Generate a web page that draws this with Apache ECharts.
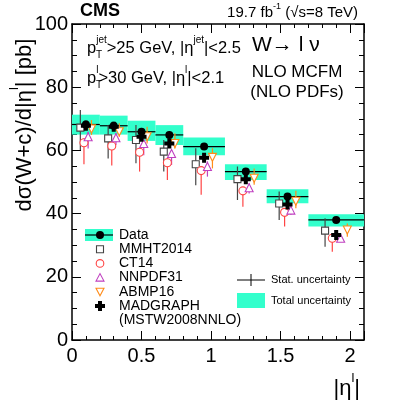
<!DOCTYPE html>
<html>
<head>
<meta charset="utf-8">
<script src="https://cdn.jsdelivr.net/npm/echarts@6/dist/echarts.min.js"></script>
<style>
  html, body { margin: 0; padding: 0; background: #fff; }
  #chart { width: 399px; height: 404px; }
</style>
</head>
<body>
<div id="chart"></div>
<script>
// bins in |eta^l|
const binLo = [0, 0.2, 0.4, 0.6, 0.8, 1.1, 1.4, 1.7];
const binHi = [0.2, 0.4, 0.6, 0.8, 1.1, 1.4, 1.7, 2.1];

// measured cross section [pb]
const dataVal = [68.2, 67.8, 65.9, 64.9, 61.2, 53.3, 45.4, 38.0];
const dataStat = [1.2, 1.2, 1.2, 1.2, 1.1, 1.0, 0.9, 0.8];
const dataTotLo = [65.0, 65.0, 63.0, 61.7, 58.5, 50.6, 43.3, 35.9];
const dataTotHi = [71.3, 71.0, 69.4, 68.0, 64.1, 55.6, 47.7, 39.8];

// predictions: value, upper and lower edge of uncertainty
const mmhtVal = [67.2, 63.8, 63.3, 59.6, 55.6, 50.9, 43.2, 34.6];
const mmhtHi = [72.8, 68.0, 68.0, 63.3, 60.7, 54.9, 47.0, 38.5];
const mmhtLo = [60.1, 57.4, 55.9, 53.3, 49.0, 44.3, 38.0, 29.5];

const ct14Val = [62.4, 61.4, 59.4, 56.1, 53.6, 47.2, 40.4, 32.2];
const ct14Hi = [63.8, 62.8, 60.7, 57.5, 54.3, 48.5, 41.1, 33.2];
const ct14Lo = [55.6, 55.2, 53.3, 50.6, 46.0, 42.2, 35.9, 27.9];

const nnpdfVal = [64.3, 64.0, 62.2, 59.0, 54.9, 48.2, 41.1, 32.2];
const nnpdfHi = [65.9, 65.4, 63.3, 60.1, 56.5, 49.6, 42.7, 33.3];
const nnpdfLo = [60.6, 61.7, 58.5, 55.4, 51.7, 46.4, 39.6, 31.2];

const abmpVal = [66.8, 65.9, 64.3, 62.2, 57.8, 51.2, 43.9, 34.8];
const abmpHi = [69.6, 68.6, 67.5, 65.4, 60.7, 54.3, 47.2, 36.9];
const abmpLo = [64.9, 64.3, 62.2, 60.6, 54.3, 49.1, 41.7, 32.7];

const madVal = [67.8, 67.5, 64.3, 62.2, 57.7, 50.9, 42.9, 33.2];

const legendNames = ['Data', 'MMHT2014', 'CT14', 'NNPDF31', 'ABMP16', 'MADGRAPH', '(MSTW2008NNLO)'];

const FONT = '"Liberation Sans", Arial, Helvetica, sans-serif';
const CYAN = '#33ffcc';
const RED = '#ff4444';
const PURPLE = '#c040c0';
const ORANGE = '#ff8c1a';
const GRAY = '#444444';

const CROSS = 'path://M3,0 L7,0 L7,3 L10,3 L10,7 L7,7 L7,10 L3,10 L3,7 L0,7 L0,3 L3,3 Z';
const DOWNTRI = 'path://M0,0 L10,0 L5,9 Z';

// x position inside a bin, as a fraction of the bin width
function xIn(i, frac) {
  return binLo[i] + (0.5 + frac) * (binHi[i] - binLo[i]);
}

const models = [
  { name: 'MMHT2014', val: mmhtVal, hi: mmhtHi, lo: mmhtLo, off: -0.2, color: GRAY, symbol: 'rect', size: 7 },
  { name: 'CT14', val: ct14Val, hi: ct14Hi, lo: ct14Lo, off: -0.07, color: RED, symbol: 'circle', size: 8 },
  { name: 'NNPDF31', val: nnpdfVal, hi: nnpdfHi, lo: nnpdfLo, off: 0.08, color: PURPLE, symbol: 'triangle', size: 8 },
  { name: 'ABMP16', val: abmpVal, hi: abmpHi, lo: abmpLo, off: 0.2, color: ORANGE, symbol: DOWNTRI, size: 8 }
];

const chart = echarts.init(document.getElementById('chart'), null, { renderer: 'canvas' });

const series = [];

// total uncertainty boxes
series.push({
  type: 'custom',
  name: 'Total uncertainty',
  renderItem: function (params, api) {
    const p0 = api.coord([api.value(0), api.value(3)]);
    const p1 = api.coord([api.value(1), api.value(2)]);
    return {
      type: 'rect',
      shape: { x: p0[0], y: p0[1], width: p1[0] - p0[0], height: p1[1] - p0[1] },
      style: { fill: CYAN }
    };
  },
  encode: { x: [0, 1], y: [2, 3] },
  data: binLo.map((lo, i) => [lo, binHi[i], dataTotLo[i], dataTotHi[i]]),
  silent: true
});

// bin width line + stat error of data
series.push({
  type: 'custom',
  name: 'Stat. uncertainty',
  renderItem: function (params, api) {
    const a = api.coord([api.value(0), api.value(2)]);
    const b = api.coord([api.value(1), api.value(2)]);
    const xc = (api.value(0) + api.value(1)) / 2;
    const c = api.coord([xc, api.value(2) + api.value(3)]);
    const d = api.coord([xc, api.value(2) - api.value(3)]);
    return {
      type: 'group',
      children: [
        { type: 'line', shape: { x1: a[0], y1: a[1], x2: b[0], y2: b[1] }, style: { stroke: '#000', lineWidth: 1.2 } },
        { type: 'line', shape: { x1: c[0], y1: c[1], x2: d[0], y2: d[1] }, style: { stroke: '#000', lineWidth: 1.2 } }
      ]
    };
  },
  encode: { x: [0, 1], y: 2 },
  data: binLo.map((lo, i) => [lo, binHi[i], dataVal[i], dataStat[i]]),
  silent: true
});

// prediction error bars
models.forEach(m => {
  series.push({
    type: 'custom',
    name: m.name + ' unc',
    renderItem: function (params, api) {
      const a = api.coord([api.value(0), api.value(1)]);
      const b = api.coord([api.value(0), api.value(2)]);
      return {
        type: 'line',
        shape: { x1: a[0], y1: a[1], x2: b[0], y2: b[1] },
        style: { stroke: m.color, lineWidth: 1.2 }
      };
    },
    encode: { x: 0, y: [1, 2] },
    data: m.val.map((v, i) => [xIn(i, m.off), m.lo[i], m.hi[i]]),
    silent: true
  });
});

// prediction markers
models.forEach(m => {
  series.push({
    type: 'scatter',
    name: m.name,
    symbol: m.symbol,
    symbolSize: m.size,
    itemStyle: { color: '#fff', borderColor: m.color, borderWidth: 1.1, opacity: 1 },
    data: m.val.map((v, i) => [xIn(i, m.off), v]),
    silent: true
  });
});

series.push({
  type: 'scatter',
  name: 'MADGRAPH',
  symbol: CROSS,
  symbolSize: 10,
  itemStyle: { color: '#000', opacity: 1 },
  data: madVal.map((v, i) => [xIn(i, 0), v]),
  silent: true
});

series.push({
  type: 'scatter',
  name: 'Data',
  symbol: 'circle',
  symbolSize: 8,
  itemStyle: { color: '#000', opacity: 1 },
  data: dataVal.map((v, i) => [xIn(i, 0), v]),
  silent: true
});

// ---- hand drawn legend and labels ----
const graphic = [];
function txt(x, y, text, style) {
  graphic.push({
    type: 'text', x: x, y: y, silent: true,
    style: Object.assign({ text: text, fill: '#000', fontFamily: FONT, fontSize: 14 }, style || {})
  });
}
const supRich = {
  m: { fontFamily: FONT, fontSize: 16.5, lineHeight: 22, verticalAlign: 'bottom' },
  s: { fontFamily: FONT, fontSize: 10, lineHeight: 22, verticalAlign: 'top' }
};

txt(80, 2, 'CMS', { fontSize: 18, fontWeight: 'bold' });
txt(358, 2, '{m|19.7 fb}{s|-1}{m| (√s=8 TeV)}', {
  align: 'right',
  rich: {
    m: { fontFamily: FONT, fontSize: 15, lineHeight: 18, verticalAlign: 'bottom' },
    s: { fontFamily: FONT, fontSize: 9, lineHeight: 18, verticalAlign: 'top' }
  }
});

txt(87, 35, '{m|p}{s|jet}{m|>25 GeV, |η}{s|jet}{m||<2.5}', { rich: supRich });
txt(96, 50, 'T', { fontSize: 10 });
txt(87, 65, '{m|p}{s|l}{m|>30 GeV, |η}{s|l}{m||<2.1}', { rich: supRich });
txt(96, 80, 'T', { fontSize: 10 });

txt(252, 35, 'W→ l ν', { fontSize: 21 });
txt(297, 72.5, 'NLO MCFM', { fontSize: 17, align: 'center', verticalAlign: 'middle' });
txt(297, 92.5, '(NLO PDFs)', { fontSize: 17, align: 'center', verticalAlign: 'middle' });

// y axis title
graphic.push({
  type: 'text', x: 22, y: 125, rotation: Math.PI / 2, silent: true,
  style: {
    text: '{m|dσ(W+c)/d|η}{s|l}{m|| [pb]}',
    align: 'center', verticalAlign: 'middle', fill: '#000',
    rich: {
      m: { fontFamily: FONT, fontSize: 22, lineHeight: 28, verticalAlign: 'bottom' },
      s: { fontFamily: FONT, fontSize: 13, lineHeight: 28, verticalAlign: 'top' }
    }
  }
});
// x axis title
txt(360, 372, '{m||η}{s|l}{m||}', {
  align: 'right',
  rich: {
    m: { fontFamily: FONT, fontSize: 22, lineHeight: 28, verticalAlign: 'bottom' },
    s: { fontFamily: FONT, fontSize: 13, lineHeight: 28, verticalAlign: 'top' }
  }
});

// legend rows
const legY0 = 235, legDy = 14.2, legIconX = 100, legTextX = 119;
legendNames.forEach((name, i) => {
  txt(legTextX, legY0 + i * legDy, name, { fontSize: 14, verticalAlign: 'middle' });
});
graphic.push({ type: 'rect', silent: true, shape: { x: 85, y: legY0 - 6, width: 28, height: 12 }, style: { fill: CYAN } });
graphic.push({ type: 'line', silent: true, shape: { x1: 85, y1: legY0, x2: 113, y2: legY0 }, style: { stroke: '#000', lineWidth: 1.2 } });
graphic.push({ type: 'circle', silent: true, shape: { cx: legIconX, cy: legY0, r: 4 }, style: { fill: '#000' } });
let yy = legY0 + legDy;
graphic.push({ type: 'rect', silent: true, shape: { x: legIconX - 3.5, y: yy - 3.5, width: 7, height: 7 }, style: { fill: '#fff', stroke: GRAY, lineWidth: 1.1 } });
yy += legDy;
graphic.push({ type: 'circle', silent: true, shape: { cx: legIconX, cy: yy, r: 3.8 }, style: { fill: '#fff', stroke: RED, lineWidth: 1.1 } });
yy += legDy;
graphic.push({ type: 'polygon', silent: true, shape: { points: [[legIconX - 4, yy + 3.5], [legIconX + 4, yy + 3.5], [legIconX, yy - 4]] }, style: { fill: '#fff', stroke: PURPLE, lineWidth: 1.1 } });
yy += legDy;
graphic.push({ type: 'polygon', silent: true, shape: { points: [[legIconX - 4, yy - 3.5], [legIconX + 4, yy - 3.5], [legIconX, yy + 4]] }, style: { fill: '#fff', stroke: ORANGE, lineWidth: 1.1 } });
yy += legDy;
graphic.push({ type: 'polygon', silent: true, shape: { points: [
  [legIconX - 2, yy - 5], [legIconX + 2, yy - 5], [legIconX + 2, yy - 2], [legIconX + 5, yy - 2],
  [legIconX + 5, yy + 2], [legIconX + 2, yy + 2], [legIconX + 2, yy + 5], [legIconX - 2, yy + 5],
  [legIconX - 2, yy + 2], [legIconX - 5, yy + 2], [legIconX - 5, yy - 2], [legIconX - 2, yy - 2]
] }, style: { fill: '#000' } });

// uncertainty legend
graphic.push({ type: 'line', silent: true, shape: { x1: 237, y1: 280, x2: 265, y2: 280 }, style: { stroke: '#000', lineWidth: 1 } });
graphic.push({ type: 'line', silent: true, shape: { x1: 251, y1: 274, x2: 251, y2: 286 }, style: { stroke: '#000', lineWidth: 1 } });
txt(271, 280, 'Stat. uncertainty', { fontSize: 11, verticalAlign: 'middle' });
graphic.push({ type: 'rect', silent: true, shape: { x: 237, y: 293, width: 28, height: 15 }, style: { fill: CYAN } });
txt(271, 301, 'Total uncertainty', { fontSize: 11, verticalAlign: 'middle' });

const axisCommon = {
  axisLine: { show: true, onZero: false, lineStyle: { color: '#000', width: 1.5 } },
  axisTick: { show: true, inside: true, length: 9, lineStyle: { color: '#000', width: 1 } },
  splitLine: { show: false }
};

const option = {
  animation: false,
  backgroundColor: '#fff',
  grid: { left: 72, right: 35, top: 24, bottom: 64 },
  xAxis: [
    Object.assign({
      type: 'value', min: 0, max: 2.1, interval: 0.5, position: 'bottom',
      minorTick: { show: true, splitNumber: 5, length: 4, lineStyle: { color: '#000' } },
      axisLabel: { color: '#000', fontFamily: FONT, fontSize: 20, margin: 6, showMaxLabel: false }
    }, axisCommon),
    Object.assign({
      type: 'value', min: 0, max: 2.1, interval: 0.5, position: 'top',
      minorTick: { show: true, splitNumber: 5, length: 4, lineStyle: { color: '#000' } },
      axisLabel: { show: false }
    }, axisCommon)
  ],
  yAxis: [
    Object.assign({
      type: 'value', min: 0, max: 100, interval: 20, position: 'left',
      minorTick: { show: true, splitNumber: 4, length: 5, lineStyle: { color: '#000' } },
      axisLabel: { color: '#000', fontFamily: FONT, fontSize: 20, margin: 4 }
    }, axisCommon),
    Object.assign({
      type: 'value', min: 0, max: 100, interval: 20, position: 'right',
      minorTick: { show: true, splitNumber: 4, length: 5, lineStyle: { color: '#000' } },
      axisLabel: { show: false }
    }, axisCommon)
  ],
  series: series,
  graphic: graphic
};

chart.setOption(option);
window.addEventListener('resize', () => chart.resize());
</script>
</body>
</html>
